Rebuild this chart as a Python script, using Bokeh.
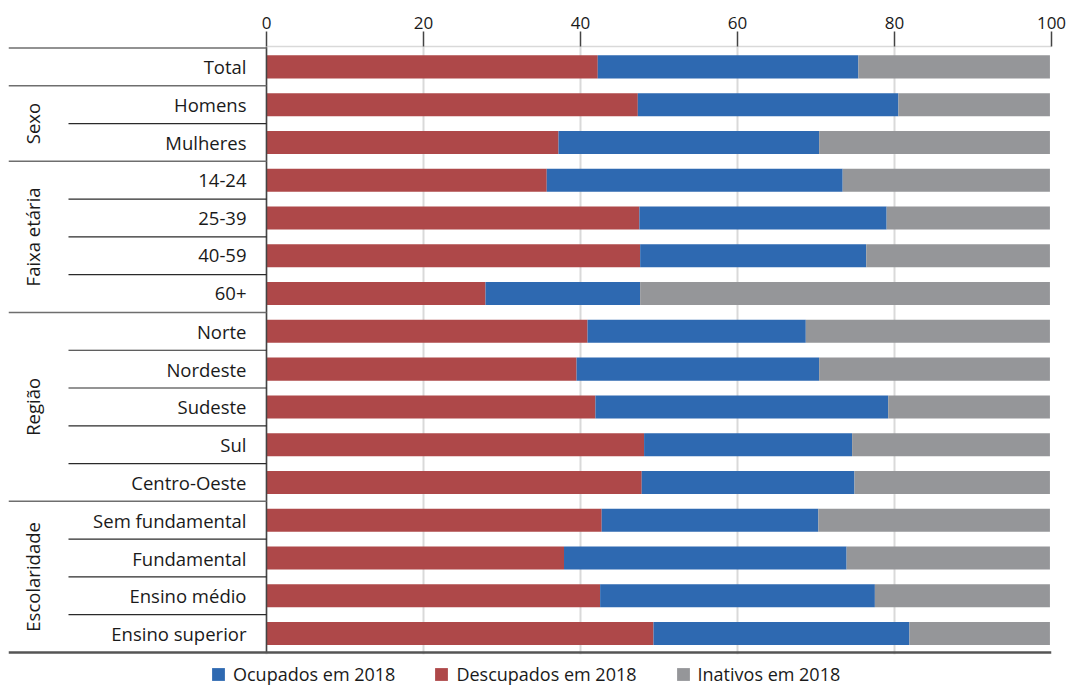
import math
from bokeh.plotting import figure
from bokeh.models import (Range1d, FixedTicker, Legend, LegendItem, ColumnDataSource,
                          BoxAnnotation)
from bokeh.core.properties import value
from bokeh.embed import file_html
from bokeh.resources import INLINE

# ---------------- data ----------------
categories = ["Total", "Homens", "Mulheres", "14-24", "25-39", "40-59", "60+",
              "Norte", "Nordeste", "Sudeste", "Sul", "Centro-Oeste",
              "Sem fundamental", "Fundamental", "Ensino médio", "Ensino superior"]
groups = ["", "Sexo", "Sexo", "Faixa etária", "Faixa etária", "Faixa etária", "Faixa etária",
          "Região", "Região", "Região", "Região", "Região",
          "Escolaridade", "Escolaridade", "Escolaridade", "Escolaridade"]
descupados = [42.2, 47.3, 37.2, 35.7, 47.5, 47.6, 27.9, 40.9, 39.5, 41.9, 48.1, 47.8, 42.7, 37.9, 42.5, 49.3]
ocupados = [33.2, 33.2, 33.2, 37.7, 31.5, 28.8, 19.7, 27.8, 30.9, 37.3, 26.5, 27.1, 27.6, 36.0, 35.0, 32.6]
inativos = [24.4, 19.3, 29.4, 26.4, 20.8, 23.4, 52.2, 31.1, 29.4, 20.6, 25.2, 24.9, 29.5, 25.9, 22.3, 17.9]
x_ticks = [0, 20, 40, 60, 80, 100]
series_labels = ["Ocupados em 2018", "Descupados em 2018", "Inativos em 2018"]

# ---------------- style ----------------
RED = "#ae4849"
BLUE = "#2e69b1"
GRAY = "#959699"
FONT = "Open Sans"
TXT = "#1a1a1a"

W, H = 1067, 687
FRAME_L, ZERO_PX, FRAME_R = 8, 266, 1051
PARTIAL_PX = 68
ROW_PX = 37.75
TOP_PX = 48
EPS_PX = 1.5
n = len(categories)

ppu = (FRAME_R - ZERO_PX) / 100.0
xmin = -(ZERO_PX - FRAME_L) / ppu
x_partial = -(ZERO_PX - PARTIAL_PX) / ppu
eps = EPS_PX / ROW_PX

min_top = TOP_PX - EPS_PX
bottom_extra = (H - (TOP_PX + n * ROW_PX)) / ROW_PX   # legend strip inside the frame

p = figure(width=W, height=H, output_backend="svg", toolbar_location=None,
           x_range=Range1d(xmin, 100), y_range=Range1d(n - 0.5 + bottom_extra, -0.5 - eps),
           x_axis_location="above", y_axis_location=None,
           min_border_left=FRAME_L, min_border_right=W - FRAME_R,
           min_border_top=int(round(min_top)), min_border_bottom=0)
p.outline_line_color = None
p.background_fill_color = "white"

ax = p.xaxis[0]
ax.ticker = FixedTicker(ticks=x_ticks)
ax.bounds = (0, 100)
ax.axis_line_color = "#d9d9d9"
ax.axis_line_width = 1.5
ax.major_tick_line_color = "#444444"
ax.major_tick_line_width = 1.5
ax.major_tick_in = 0
ax.major_tick_out = 15
ax.minor_tick_line_color = None
ax.major_label_text_font = FONT
ax.major_label_text_font_size = "17px"
ax.major_label_text_color = TXT
ax.major_label_standoff = 3

p.xgrid.grid_line_color = "#d9d9d9"
p.xgrid.grid_line_width = 2
p.ygrid.grid_line_color = None

ypos = list(range(n))
src = ColumnDataSource(dict(y=ypos, cat=categories, desc=descupados, ocup=ocupados, inat=inativos))

rs = p.hbar_stack(["desc", "ocup", "inat"], y="y", height=0.61, color=[RED, BLUE, GRAY],
                  line_color=None, source=src)
r_desc, r_ocup, r_inat = rs

# white strip below the chart body (hides grid lines in legend strip)
p.add_layout(BoxAnnotation(top=n - 0.5 + 0.045, fill_color="white", fill_alpha=1,
                           line_color=None))

# y-axis line at 0
p.segment(x0=[0], x1=[0], y0=[-0.5 - eps], y1=[n - 0.5], line_color="#444444", line_width=1.5)

# category labels
p.text(x=0, y="y", text="cat", source=src, x_offset=-20, text_align="right",
       text_baseline="middle", text_font=value(FONT), text_font_size="18.5px", text_color=TXT)

# separator lines
full_y, part_y = [], []
for i in range(n + 1):
    b = i - 0.5
    if i == 0 or i == n:
        full_y.append(b)
    elif groups[i] != groups[i - 1] or groups[i] == "":
        full_y.append(b)
    else:
        part_y.append(b)
fy_inner = [y for y in full_y if y != n - 0.5]
p.segment(x0=[xmin] * len(fy_inner), x1=[0] * len(fy_inner), y0=fy_inner, y1=fy_inner,
          line_color="#6e6e6e", line_width=1.5)
p.segment(x0=[x_partial] * len(part_y), x1=[0] * len(part_y), y0=part_y, y1=part_y,
          line_color="#2a2a2a", line_width=1.2)
# bottom line across the whole chart
p.segment(x0=[xmin], x1=[100], y0=[n - 0.5], y1=[n - 0.5], line_color="#555555", line_width=2.5)

# group labels
gnames, gcent = [], []
for g in dict.fromkeys(groups):
    if g == "":
        continue
    idx = [i for i, gg in enumerate(groups) if gg == g]
    gnames.append(g)
    gcent.append((idx[0] + idx[-1]) / 2.0)
p.text(x=[xmin] * len(gnames), y=gcent, text=gnames, x_offset=24, angle=math.pi / 2,
       text_align="center", text_baseline="middle", text_font=value(FONT),
       text_font_size="18.5px", text_color=TXT)

legend = Legend(items=[LegendItem(label=series_labels[0], renderers=[r_ocup]),
                       LegendItem(label=series_labels[1], renderers=[r_desc]),
                       LegendItem(label=series_labels[2], renderers=[r_inat])],
                orientation="horizontal", location=(202, 1),
                glyph_width=16, glyph_height=16, label_standoff=7, spacing=38,
                padding=0, margin=0, border_line_color=None, background_fill_alpha=0,
                label_text_font=FONT, label_text_font_size="18px", label_text_color=TXT)
p.add_layout(legend, "center")

open("out.html", "w").write(file_html(p, INLINE))
